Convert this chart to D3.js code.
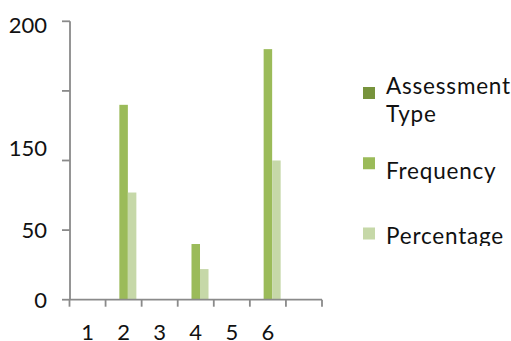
<!DOCTYPE html>
<html>
<head>
<meta charset="utf-8">
<script src="https://cdn.jsdelivr.net/npm/d3@7"></script>
<style>
  html, body { margin: 0; padding: 0; background: #fff; }
  svg { display: block; font-family: Lato, "Open Sans", sans-serif; }
</style>
</head>
<body>
<svg id="chart" width="511" height="341"></svg>
<script>
// Category axis (last slot has no label)
const categories = ["1", "2", "3", "4", "5", "6", ""];
// Series
const seriesNames = ["Assessment Type", "Frequency", "Percentage"];
const assessmentType = [0, 0, 0, 0, 0, 0, 0];
const frequency = [0, 140, 0, 40, 0, 180, 0];
const percentage = [0, 77, 0, 22, 0, 100, 0];
// Value axis ticks and their printed labels
const yTickValues = [0, 50, 100, 150, 200];
const yLabelText = ["0", "50", "150", "200"];
const yLabelValues = [0, 50, 109, 197.5];

const seriesValues = [assessmentType, frequency, percentage];
const colors = ["#77933C", "#9BBB59", "#C6D8A8"];
const axisColor = "#8A8A8A";

const svg = d3.select("#chart");

const y = d3.scaleLinear().domain([0, 200]).range([299.7, 21.3]);
const x0 = d3.scaleBand().domain(categories).range([69.5, 322]).paddingInner(0).paddingOuter(0);
const x1 = d3.scaleBand().domain(seriesNames).range([0, x0.bandwidth()]).paddingInner(0).paddingOuter(0.62);
const color = d3.scaleOrdinal().domain(seriesNames).range(colors);

// Bars
const rows = categories.map((c, i) => ({
  cat: c, idx: i,
  vals: seriesNames.map((s, k) => ({ key: s, value: seriesValues[k][i] }))
}));

const groups = svg.append("g").selectAll("g").data(rows).join("g")
  .attr("transform", d => `translate(${x0(d.cat)},0)`);
groups.selectAll("rect").data(d => d.vals.filter(v => v.value > 0)).join("rect")
  .attr("x", d => x1(d.key))
  .attr("width", x1.bandwidth())
  .attr("y", d => y(d.value))
  .attr("height", d => y(0) - y(d.value))
  .attr("fill", d => color(d.key));

// Value axis
const yAxisX = 70;
svg.append("line").attr("x1", yAxisX).attr("x2", yAxisX)
  .attr("y1", y(200)).attr("y2", y(0))
  .attr("stroke", axisColor).attr("stroke-width", 1.8);
svg.append("g").selectAll("line").data(yTickValues).join("line")
  .attr("x1", yAxisX - 8).attr("x2", yAxisX)
  .attr("y1", d => y(d)).attr("y2", d => y(d))
  .attr("stroke", axisColor).attr("stroke-width", 1.8);
svg.append("g").selectAll("text").data(yLabelText).join("text")
  .attr("x", 47).attr("y", (d, i) => y(yLabelValues[i]))
  .attr("dy", "0.36em")
  .attr("text-anchor", "end")
  .attr("font-size", 22).attr("fill", "#111")
  .text(d => d);

// Category axis
const xAxisY = y(0);
svg.append("line").attr("x1", x0.range()[0]).attr("x2", x0.range()[1])
  .attr("y1", xAxisY).attr("y2", xAxisY)
  .attr("stroke", axisColor).attr("stroke-width", 1.8);
const boundaries = categories.map(c => x0(c)).concat([x0.range()[1]]);
svg.append("g").selectAll("line").data(boundaries).join("line")
  .attr("x1", d => d).attr("x2", d => d)
  .attr("y1", xAxisY).attr("y2", xAxisY + 7)
  .attr("stroke", axisColor).attr("stroke-width", 1.8);
svg.append("g").selectAll("text").data(categories).join("text")
  .attr("x", d => x0(d) + x0.bandwidth() / 2)
  .attr("y", 340)
  .attr("text-anchor", "middle")
  .attr("font-size", 22).attr("fill", "#111")
  .text(d => d);

// Legend (clipped at its bottom edge)
svg.append("clipPath").attr("id", "legendClip")
  .append("rect").attr("x", 340).attr("y", 60).attr("width", 171).attr("height", 186);
const legend = svg.append("g").attr("clip-path", "url(#legendClip)");
const ly = d3.scalePoint().domain(seriesNames).range([87, 227.5]);
const textOffset = { "Assessment Type": 7.3, "Frequency": 21.7, "Percentage": 16.3 };
const items = legend.selectAll("g").data(seriesNames).join("g")
  .attr("transform", d => `translate(0,${ly(d)})`);
items.append("rect").attr("x", 363).attr("y", 0).attr("width", 12).attr("height", 12)
  .attr("fill", d => color(d));
items.append("text")
  .attr("x", 386).attr("y", d => textOffset[d])
  .attr("font-size", 22.5).attr("letter-spacing", 0.8).attr("fill", "#111")
  .each(function(d) {
    const words = d === "Assessment Type" ? ["Assessment", "Type"] : [d];
    d3.select(this).selectAll("tspan").data(words).join("tspan")
      .attr("x", 386).attr("dy", (w, i) => i === 0 ? 0 : 27.4)
      .text(w => w);
  });
</script>
</body>
</html>
